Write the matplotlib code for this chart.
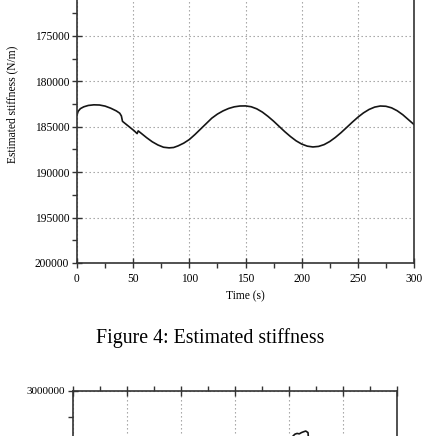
import matplotlib
matplotlib.use("Agg")
import matplotlib.pyplot as plt
from matplotlib.ticker import MultipleLocator, FuncFormatter

plt.rcParams["font.family"] = ["Liberation Serif", "DejaVu Serif"]

# Estimated stiffness
time_s = [0, 1, 3, 6, 10, 15, 20, 25, 30, 35, 38, 39.5, 40.5, 43, 47, 51, 53.5,
          54.5, 57, 62, 67, 72, 77, 82, 86, 90, 95, 100, 105, 110, 115, 120,
          125, 130, 135, 140, 145, 150, 155, 160, 165, 170, 175, 180, 185, 190,
          195, 200, 205, 210, 215, 220, 225, 230, 235, 240, 245, 250, 255, 260,
          265, 270, 275, 280, 285, 290, 295, 300]
stiffness = [183700, 183300, 183000, 182800, 182650, 182580, 182600, 182720,
             182950, 183250, 183500, 183800, 184400, 184650, 185050, 185450,
             185750, 185450, 185700, 186200, 186650, 187000, 187250, 187320,
             187280, 187100, 186800, 186400, 185850, 185250, 184650, 184050,
             183600, 183250, 182980, 182800, 182710, 182700, 182790, 183020,
             183380, 183850, 184380, 184960, 185540, 186070, 186540, 186900,
             187130, 187220, 187160, 186960, 186620, 186170, 185650, 185080,
             184500, 183950, 183470, 183090, 182830, 182710, 182740, 182910,
             183230, 183670, 184210, 184750]

# next figure, only its top edge is visible
time_b = [202, 203.7, 205.5, 207.5, 209.5, 211.5, 213.5, 215.5, 217.6, 218.5, 219.5]
stiffness_b = [2300000, 2567000, 2585000, 2592000, 2588000, 2600000, 2608000,
               2615000, 2600000, 2480000, 2300000]


# Only label ticks that fall inside the cropped page.
def top_labels(v, pos):
    return "%d" % v if v >= 175000 else ""


def bottom_labels(v, pos):
    return "%d" % v if v >= 2500000 else ""


fig = plt.figure(figsize=(4.24, 4.36), dpi=100)

# Figure 4 (top cut off by the page crop)
ax = fig.add_axes([77 / 424, 1 - 263 / 436, 337 / 424, 317.8 / 436])
ax.plot(time_s, stiffness, color="#151515", lw=1.2)
ax.set_xlim(0, 300)
ax.set_ylim(200000, 165000)
ax.xaxis.set_major_locator(MultipleLocator(50))
ax.xaxis.set_minor_locator(MultipleLocator(25))
ax.yaxis.set_major_locator(MultipleLocator(5000))
ax.yaxis.set_minor_locator(MultipleLocator(2500))
ax.yaxis.set_major_formatter(FuncFormatter(top_labels))
ax.grid(True, which="major", ls=(0, (1.2, 2.4)), color="#9a9a9a", lw=0.8)
ax.tick_params(which="major", direction="inout", length=7, width=1,
               labelsize=8.3, pad=2, color="#333333")
ax.tick_params(which="minor", direction="out", length=3.5, width=1, color="#333333")
ax.tick_params(axis="x", which="major", pad=4)
for s in ax.spines.values():
    s.set_linewidth(1.2)
    s.set_color("#333333")
ax.set_xlabel("Time (s)", fontsize=8.3)
ax.set_ylabel("Estimated stiffness (N/m)", fontsize=8.3)
ax.xaxis.set_label_coords(0.5, -0.085)
ax.yaxis.set_label_coords(-0.175, 0.5)

fig.text(0.495, 1 - 338 / 436, "Figure 4: Estimated stiffness",
         ha="center", va="center", fontsize=14.3)

# next chart on the page
ax2 = fig.add_axes([73 / 424, 1 - 703 / 436, 324 / 424, 312 / 436])
ax2.plot(time_b, stiffness_b, color="#151515", lw=1.2)
ax2.set_xlim(0, 300)
ax2.set_ylim(0, 3000000)
ax2.xaxis.set_major_locator(MultipleLocator(50))
ax2.xaxis.set_minor_locator(MultipleLocator(25))
ax2.yaxis.set_major_locator(MultipleLocator(500000))
ax2.yaxis.set_minor_locator(MultipleLocator(250000))
ax2.yaxis.set_major_formatter(FuncFormatter(bottom_labels))
ax2.xaxis.set_major_formatter(FuncFormatter(lambda v, pos: ""))
ax2.grid(True, which="major", ls=(0, (1.2, 2.4)), color="#9a9a9a", lw=0.8)
ax2.tick_params(which="major", direction="inout", length=7, width=1,
                labelsize=8, pad=2, color="#333333", top=True)
ax2.tick_params(which="minor", direction="out", length=3.5, width=1,
                color="#333333", top=True)
for s in ax2.spines.values():
    s.set_linewidth(1.2)
    s.set_color("#333333")

fig.savefig("out.png", dpi=100)
